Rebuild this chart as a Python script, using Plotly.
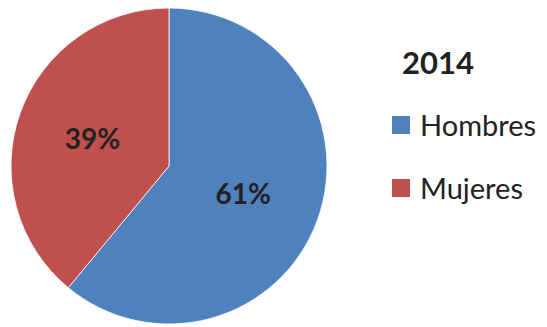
import plotly.graph_objects as go

W, H = 547, 327

categories = ["Hombres", "Mujeres"]
values = [61, 39]
colors = ["#4F81BD", "#C0504D"]
legend_title = "2014"

fig = go.Figure()
fig.add_trace(go.Pie(
    labels=categories,
    values=values,
    marker=dict(colors=colors, line=dict(color="#FFFFFF", width=0.8)),
    sort=False,
    direction="clockwise",
    rotation=0,
    textinfo="percent",
    texttemplate="%{percent:.0%}",
    textposition="inside",
    insidetextorientation="horizontal",
    textfont=dict(family="Lato", size=28, color="#222222", weight="bold"),
    domain=dict(x=[11 / W, 327 / W], y=[2 / H, 320 / H]),
    showlegend=False,
    hoverinfo="label+percent",
))

# legend drawn as shapes + annotations
fig.add_annotation(
    x=400 / W, y=1 - 62 / H, xref="paper", yref="paper",
    xanchor="left", yanchor="middle", showarrow=False,
    text="<b>" + legend_title + "</b>",
    font=dict(family="Lato", size=31, color="#222222"),
)
row_y = [125, 188]
for name, col, yc in zip(categories, colors, row_y):
    fig.add_shape(
        type="rect", xref="paper", yref="paper",
        x0=392 / W, x1=410 / W, y0=1 - (yc + 9) / H, y1=1 - (yc - 9) / H,
        fillcolor=col, line=dict(width=0),
    )
    fig.add_annotation(
        x=418 / W, y=1 - (yc - 1) / H, xref="paper", yref="paper",
        xanchor="left", yanchor="middle", showarrow=False,
        text=name,
        font=dict(family="Lato", size=29, color="#222222"),
    )

fig.update_layout(
    width=W, height=H,
    margin=dict(l=0, r=0, t=0, b=0),
    paper_bgcolor="#FFFFFF",
    plot_bgcolor="#FFFFFF",
)

fig.write_html("out.html")
